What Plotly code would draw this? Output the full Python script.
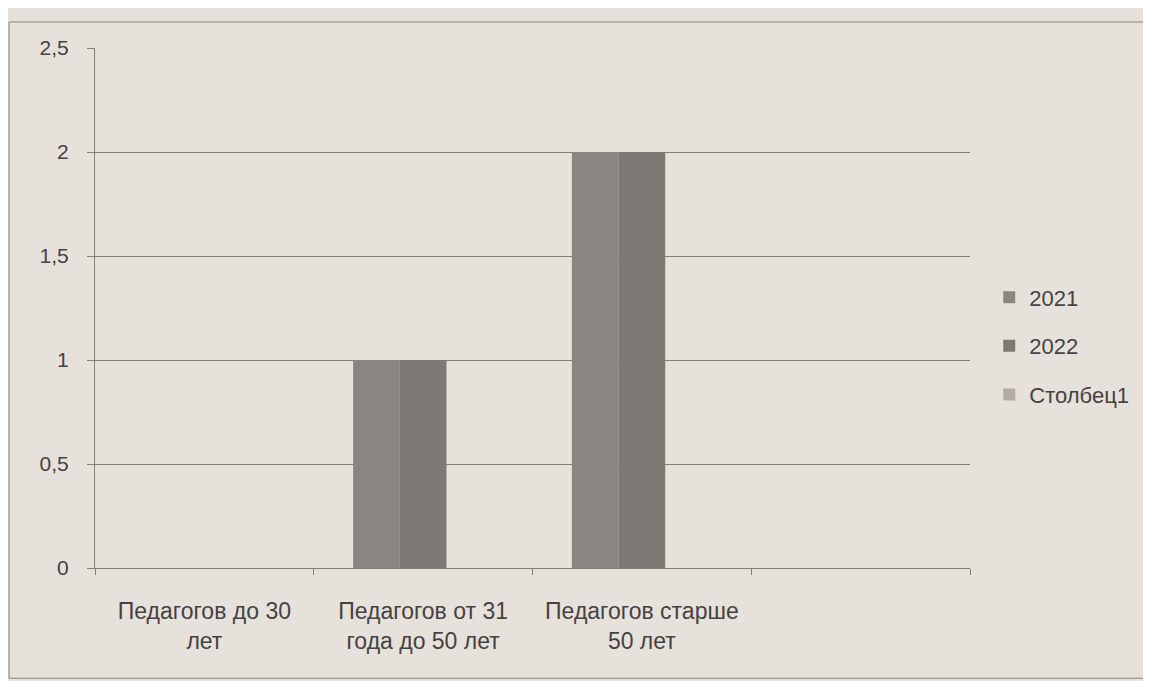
import plotly.graph_objects as go

categories = ["Педагогов до 30<br>лет", "Педагогов от 31<br>года до 50 лет", "Педагогов старше<br>50 лет", ""]
series_names = ["2021", "2022", "Столбец1"]
values_2021 = [0, 1, 2, None]
values_2022 = [0, 1, 2, None]
values_col1 = [None, None, None, None]
y_ticks = [0, 0.5, 1, 1.5, 2, 2.5]

colors = ["#8a8581", "#7d7874", "#b3aba5"]
xpos = list(range(len(categories)))

fig = go.Figure()
for name, vals, col in zip(series_names, [values_2021, values_2022, values_col1], colors):
    fig.add_trace(go.Bar(x=xpos, y=vals, name=name, marker=dict(color=col, line=dict(width=0)),
                         legendgroup=name))

font_family = "Liberation Sans, Arial, sans-serif"
bg = "#e7e1dc"
grid = "#85807b"
txt = "#46423f"

fig.update_layout(
    width=1151, height=681,
    margin=dict(l=87, r=189, t=40, b=121),
    paper_bgcolor=bg, plot_bgcolor=bg,
    barmode="group", bargap=0.36, bargroupgap=0,
    separators=", ",
    font=dict(family=font_family, size=20, color=txt),
    legend=dict(x=1.022, y=0.427, xanchor="left", yanchor="middle",
                font=dict(size=22, color=txt), tracegroupgap=17,
                bgcolor="rgba(0,0,0,0)", itemwidth=30),
    xaxis=dict(range=[-0.5, 3.5], tickvals=xpos, ticktext=categories, ticks="",
               showgrid=False, showline=True, linecolor=grid, linewidth=1,
               ticklabelstandoff=22, zeroline=False, tickfont=dict(size=23),
               minor=dict(tick0=0.5, dtick=1, ticks="outside", ticklen=6, tickcolor=grid, showgrid=False)),
    yaxis=dict(range=[0, 2.5], tickvals=y_ticks, showgrid=True, gridcolor=grid, gridwidth=1,
               showline=True, linecolor=grid, linewidth=1, ticks="outside", ticklen=7,
               tickcolor=grid, ticklabelstandoff=14, zeroline=False, tickfont=dict(size=21)),
    shapes=[dict(type="rect", xref="paper", yref="paper", x0=-0.0983, x1=1.25, y0=-0.212, y1=1.05,
                 line=dict(color="#8a8580", width=1), fillcolor="rgba(0,0,0,0)", layer="below")],
)

fig.write_html("out.html")
